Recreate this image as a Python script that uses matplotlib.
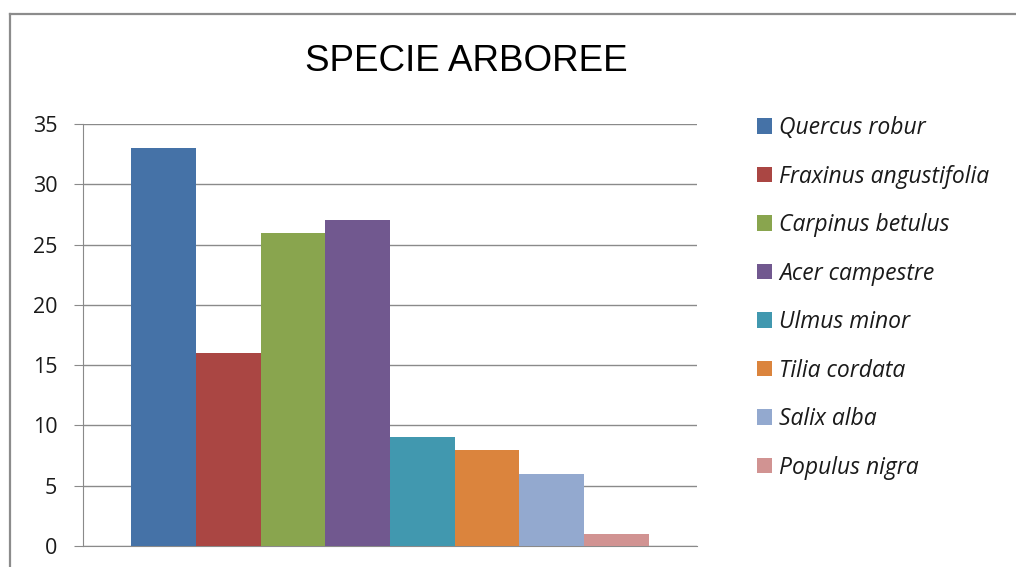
import matplotlib
matplotlib.use("Agg")
import matplotlib.pyplot as plt
from matplotlib.lines import Line2D

species = ["Quercus robur", "Fraxinus angustifolia", "Carpinus betulus", "Acer campestre",
           "Ulmus minor", "Tilia cordata", "Salix alba", "Populus nigra"]
counts = [33, 16, 26, 27, 9, 8, 6, 1]
colors = ["#4572A7", "#AA4643", "#89A54E", "#71588F", "#4198AF", "#DB843D", "#93A9CF", "#D19392"]
yticks = [0, 5, 10, 15, 20, 25, 30, 35]

plt.rcParams["font.family"] = ["Open Sans", "DejaVu Sans"]

W, H = 1016, 567
fig = plt.figure(figsize=(W / 100, H / 100), dpi=100)
fig.patch.set_facecolor("white")

# outer chart frame (left and top edges)
frame_color = "#8c8c8c"
fig.add_artist(Line2D([10 / W, 10 / W], [0, 1 - 14 / H], color=frame_color, lw=1.6,
                      transform=fig.transFigure))
fig.add_artist(Line2D([10 / W, 1], [1 - 14 / H, 1 - 14 / H], color=frame_color, lw=1.6,
                      transform=fig.transFigure))

ax = fig.add_axes([83 / W, 1 - 546 / H, (697 - 83) / W, (546 - 124) / H])
x = list(range(len(species)))
bars = ax.bar(x, counts, width=1.0, color=colors, edgecolor="none", zorder=3)
for b, lab in zip(bars, species):
    b.set_label(lab)

ax.set_xlim(-0.5 - 0.75, len(species) - 0.5 + 0.75)
ax.set_ylim(0, 35)
ax.set_yticks(yticks)
ax.set_yticklabels([str(v) for v in yticks], fontfamily="Open Sans")
ax.set_xticks([])
grid_color = "#8a8a8a"
ax.yaxis.grid(True, color=grid_color, lw=1.0, zorder=0)
for s in ("top", "right"):
    ax.spines[s].set_visible(False)
ax.spines["left"].set_color(grid_color)
ax.spines["bottom"].set_color(grid_color)
ax.tick_params(axis="y", direction="out", length=6.5, color=grid_color, pad=12,
               labelsize=15.5, labelcolor="#1a1a1a")

fig.text(466 / W, 1 - 61.5 / H, "SPECIE ARBOREE", ha="center", va="center",
         fontsize=26.5, family="Liberation Sans", color="black")

leg = fig.legend(handles=list(bars), labels=species, loc="upper left",
                 bbox_to_anchor=(757 / W, 1 - 116 / H), frameon=False,
                 prop={"family": "Open Sans", "style": "italic", "size": 16.5},
                 handlelength=0.66, handleheight=0.66, handletextpad=0.3,
                 labelspacing=1.07, borderaxespad=0, borderpad=0)
for txt in leg.get_texts():
    txt.set_color("#1a1a1a")

fig.savefig("out.png", dpi=100, facecolor="white")
